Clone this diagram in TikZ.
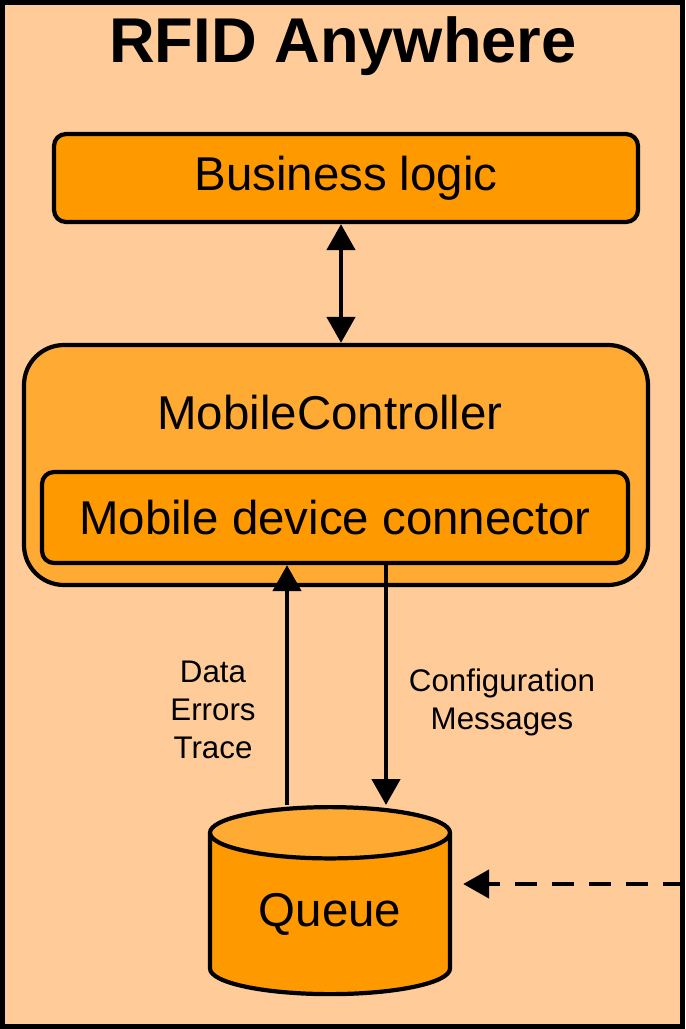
\documentclass[tikz,border=0pt]{standalone}
\usepackage{fontspec}
\setmainfont{Liberation Sans}
\usetikzlibrary{arrows.meta,shapes.geometric}
\definecolor{peach}{HTML}{FFCC99}
\definecolor{boxorange}{HTML}{FF9900}
\definecolor{lightorange}{HTML}{FFAA33}
\tikzset{
    block/.style={draw, line width=2.4pt, fill=boxorange, rounded corners=0.24cm, inner sep=0pt, font=\fontsize{27}{32}\selectfont},
    flow/.style={line width=2.6pt, -{Triangle[length=0.52cm, width=0.56cm]}},
    note/.style={align=center, font=\fontsize{17.8}{21.6}\selectfont}
}
\begin{document}
\begin{tikzpicture}
    \useasboundingbox (0,0) rectangle (13.7,-20.58);
    % Frame
    \draw[line width=2.85pt, fill=peach] (0.05,-0.05) rectangle (13.65,-20.53);
    \node[font=\fontsize{36}{40}\selectfont\bfseries] (title) at (6.86,-0.92) {RFID Anywhere};

    % Boxes
    \node[block, minimum width=11.68cm, minimum height=1.76cm] (biz) at (6.92,-3.56) {Business logic};
    \node[block, fill=lightorange, rounded corners=0.8cm, minimum width=12.48cm, minimum height=4.8cm] (ctrl) at (6.72,-9.3) {};
    \node[font=\fontsize{27}{32}\selectfont] (ctrltxt) at (6.6,-8.26) {MobileController};
    \node[block, minimum width=11.72cm, minimum height=1.82cm] (conn) at (6.7,-10.35) {Mobile device connector};
    \node[cylinder, draw, line width=2.4pt, shape border rotate=90, aspect=0.36, cylinder uses custom fill, cylinder body fill=boxorange, cylinder end fill=lightorange, minimum width=4.8cm, minimum height=3.74cm, inner sep=0pt, font=\fontsize{27}{32}\selectfont] (queue) at (6.6,-18.29) {Queue};

    % Flows
    \draw[line width=2.6pt, {Triangle[length=0.52cm, width=0.56cm]}-{Triangle[length=0.52cm, width=0.56cm]}] ([xshift=0.1cm]ctrl.north |- biz.south) -- ([xshift=0.1cm]ctrl.north);
    \draw[flow] ([xshift=-0.96cm]conn.south |- queue.north) -- ([xshift=-0.96cm]conn.south);
    \draw[flow] ([xshift=1.02cm]conn.south) -- ([xshift=1.02cm]conn.south |- queue.north);
    \coordinate (feed) at (13.7,-17.68);
    \draw[flow, dash pattern=on 0.44cm off 0.3cm, shorten >=0.22cm] (feed) -- (queue.east |- feed);

    % Labels
    \node[note] (upnote) at (4.26,-14.2) {Data\\Errors\\Trace};
    \node[note] (downnote) at (10.04,-14.05) {Configuration\\Messages};
\end{tikzpicture}
\end{document}
